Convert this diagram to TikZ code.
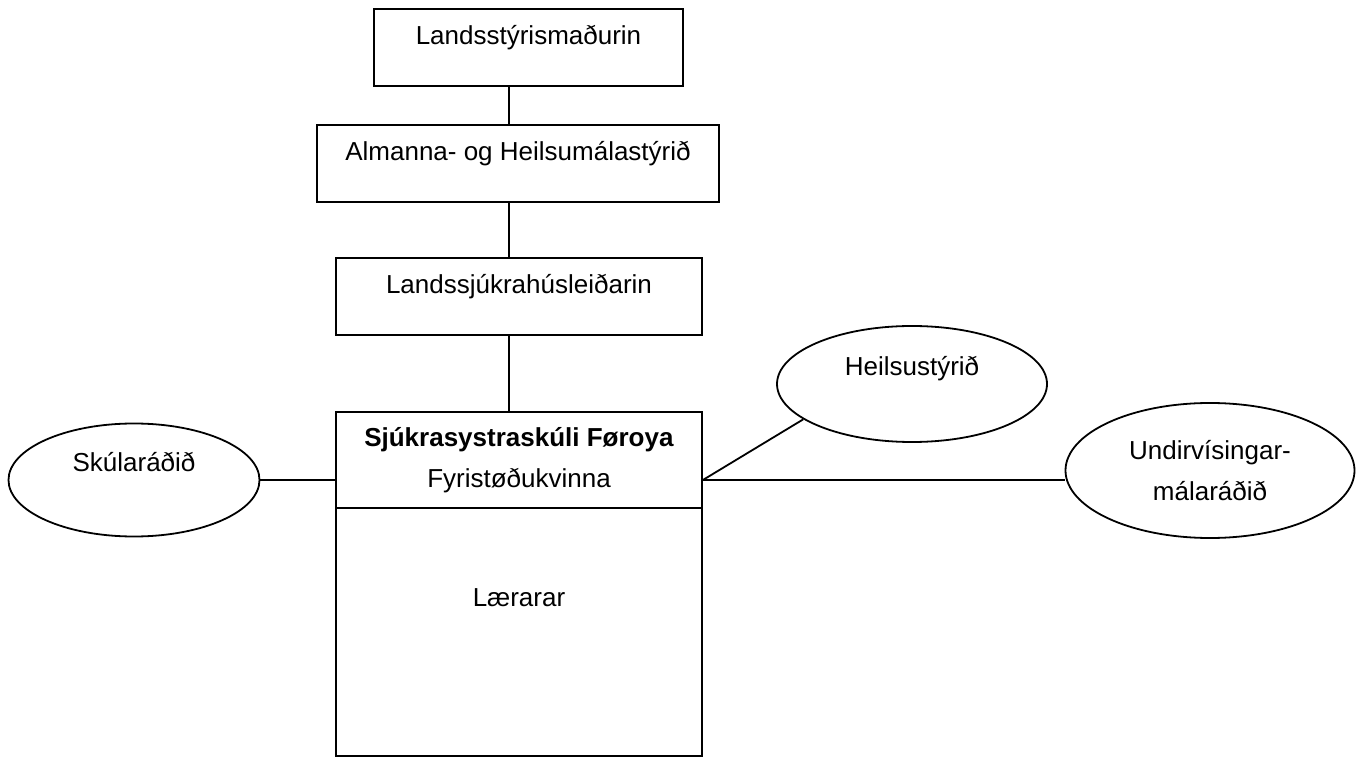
\documentclass[tikz,border=0pt]{standalone}
\usepackage{fontspec}
\setmainfont{Liberation Sans}
\usetikzlibrary{shapes.geometric}
\tikzset{every node/.style={font=\fontsize{13}{20.5}\selectfont},
 box/.style={draw,rectangle,inner sep=0pt,text height=9.5pt,text depth=12pt},
 ell/.style={draw,ellipse,inner sep=0pt,text height=9.5pt,text depth=17.5pt},
 }

\begin{document}
\begin{tikzpicture}[x=0.5pt,y=-0.5pt,line width=0.9pt]
        \useasboundingbox (0,0) rectangle (1365,758);

        \node[box,minimum width=154.5pt,minimum height=38.5pt] (minister) at (528.5,47.5) {Landsstýrismaðurin};
        \node[box,minimum width=201pt,minimum height=38.5pt] (ministry) at (518,163.5) {Almanna- og Heilsumálastýrið};
        \node[box,minimum width=183pt,minimum height=38.5pt] (hospital) at (519,296.5) {Landssjúkrahúsleiðarin};
        \node[draw,inner sep=0pt,align=center,minimum width=183pt,minimum height=48pt] (school) at (519,460) {\textbf{Sjúkrasystraskúli Føroya}\\Fyristøðukvinna};
        \node[box,minimum width=183pt,minimum height=124pt,text depth=34.5pt] (teachers) at (519,632) {Lærarar};

        \node[ell,minimum width=125.5pt,minimum height=56.5pt] (council) at (134,480) {Skúlaráðið};
        \node[ell,minimum width=135pt,minimum height=58pt] (health) at (912,384) {Heilsustýrið};
        \node[draw,ellipse,inner sep=0pt,align=center,minimum width=144.5pt,minimum height=67.5pt] (exam) at (1210,470.5) {Undirvísingar-\\málaráðið};

        \coordinate (spine) at (509,0);
        \coordinate (hub) at (council.east -| school.east);

        \draw (spine |- minister.south) -- (spine |- ministry.north);
        \draw (spine |- ministry.south) -- (spine |- hospital.north);
        \draw (spine |- hospital.south) -- (spine |- school.north);
        \draw (council.east) -- (council.east -| school.west);
        \draw (hub) -- (health.198);
        \draw (hub) -- (hub -| exam.west);
    \end{tikzpicture}
\end{document}
